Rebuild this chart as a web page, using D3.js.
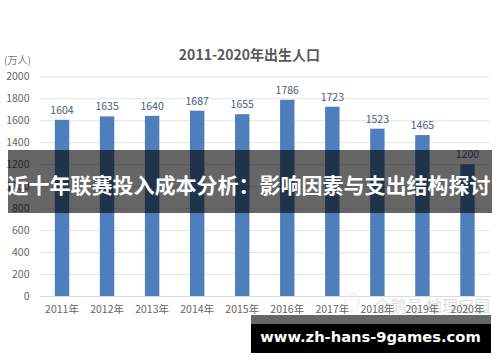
<!DOCTYPE html>
<html>
<head>
<meta charset="utf-8">
<script src="https://cdn.jsdelivr.net/npm/d3@7"></script>
<style>
  html, body { margin: 0; padding: 0; background: #fff; }
  svg { display: block; }
  text { font-family: "Noto Sans CJK SC", "Noto Sans", sans-serif; }
</style>
</head>
<body>
<div id="chart"></div>
<script>
// values
var years = ['2011年', '2012年', '2013年', '2014年', '2015年', '2016年', '2017年', '2018年', '2019年', '2020年'];
var births = [1604, 1635, 1640, 1687, 1655, 1786, 1723, 1523, 1465, 1200];
var yTicks = [0, 200, 400, 600, 800, 1000, 1200, 1400, 1600, 1800, 2000];

var chartTitle = '2011-2020年出生人口';
var unitLabel = '(万人)';
var bannerTitle = '近十年联赛投入成本分析：影响因素与支出结构探讨';
var bannerUrl = 'www.zh-hans-9games.com';
var watermark = '企鹅号 地理宝园';

var width = 500, height = 362;
var margin = {top: 76.3, right: 10, bottom: 66, left: 39.5};
var innerWidth = width - margin.left - margin.right;
var innerHeight = height - margin.top - margin.bottom;

var svg = d3.select('#chart').append('svg')
    .attr('width', width)
    .attr('height', height);

// watermark goes first so the chart text stays on top of it
svg.append('ellipse')
    .attr('cx', 352)
    .attr('cy', 302)
    .attr('rx', 7)
    .attr('ry', 9)
    .attr('fill', '#fff')
    .attr('stroke', '#e8e8e8');

svg.append('text')
    .attr('x', 490)
    .attr('y', 312)
    .attr('text-anchor', 'end')
    .style('font-size', '16px')
    .attr('fill', '#dedede')
    .text(watermark);

var g = svg.append('g')
    .attr('transform', 'translate(' + margin.left + ',' + margin.top + ')');

var x = d3.scaleBand()
    .domain(years)
    .range([0, innerWidth])
    .paddingInner(0.68)
    .paddingOuter(0.34);

var y = d3.scaleLinear()
    .domain([0, 2000])
    .range([innerHeight, 0]);

// grid lines + y labels
var yAxis = g.append('g')
    .call(d3.axisLeft(y).tickValues(yTicks).tickSize(-innerWidth).tickFormat(d3.format('d')));
yAxis.select('.domain').remove();
yAxis.selectAll('line').attr('stroke', '#e4e4e4').attr('stroke-width', 1);
yAxis.selectAll('text')
    .attr('x', -10)
    .style('font-size', '10.5px')
    .attr('fill', '#666');

// x axis
var xAxis = g.append('g')
    .attr('transform', 'translate(0,' + innerHeight + ')')
    .call(d3.axisBottom(x).tickSize(0).tickPadding(10));
xAxis.select('.domain').attr('stroke', '#dcdcdc');
xAxis.selectAll('text')
    .style('font-size', '10.5px')
    .attr('fill', '#666');

// bars
g.selectAll('.bar')
    .data(births)
    .enter()
    .append('rect')
      .attr('class', 'bar')
      .attr('x', function(d, i) { return x(years[i]) })
      .attr('y', function(d) { return y(d) })
      .attr('width', x.bandwidth())
      .attr('height', function(d) { return innerHeight - y(d) })
      .attr('fill', '#4e7fbc');

// value labels
g.selectAll('.value')
    .data(births)
    .enter()
    .append('text')
      .attr('class', 'value')
      .attr('x', function(d, i) { return x(years[i]) + x.bandwidth() / 2 })
      .attr('y', function(d) { return y(d) - 6 })
      .attr('text-anchor', 'middle')
      .style('font-size', '10.5px')
      .attr('fill', '#44607f')
      .text(function(d) { return d });

// title and unit
svg.append('text')
    .attr('x', 249.5)
    .attr('y', 60)
    .attr('text-anchor', 'middle')
    .style('font-size', '14px')
    .style('font-weight', 'bold')
    .attr('fill', '#595959')
    .text(chartTitle);

svg.append('text')
    .attr('x', 4)
    .attr('y', 64)
    .style('font-size', '10px')
    .attr('fill', '#777')
    .text(unitLabel);

// dark band across the middle
svg.append('rect')
    .attr('x', 8)
    .attr('y', 150)
    .attr('width', 484)
    .attr('height', 63)
    .attr('fill', '#000')
    .attr('fill-opacity', 0.6);

svg.append('text')
    .attr('x', 249)
    .attr('y', 193)
    .attr('text-anchor', 'middle')
    .style('font-size', '21px')
    .style('font-weight', 'bold')
    .attr('fill', '#fff')
    .text(bannerTitle);

// url banner bottom right
svg.append('rect')
    .attr('x', 251)
    .attr('y', 315)
    .attr('width', 240)
    .attr('height', 9)
    .attr('fill', '#666');

svg.append('rect')
    .attr('x', 251)
    .attr('y', 324)
    .attr('width', 240)
    .attr('height', 29)
    .attr('fill', '#000');

svg.append('text')
    .attr('x', 370.5)
    .attr('y', 342)
    .attr('text-anchor', 'middle')
    .style('font-family', '"DejaVu Sans", sans-serif')
    .style('font-size', '14.7px')
    .style('font-weight', 'bold')
    .attr('fill', '#fff')
    .text(bannerUrl);
</script>
</body>
</html>
